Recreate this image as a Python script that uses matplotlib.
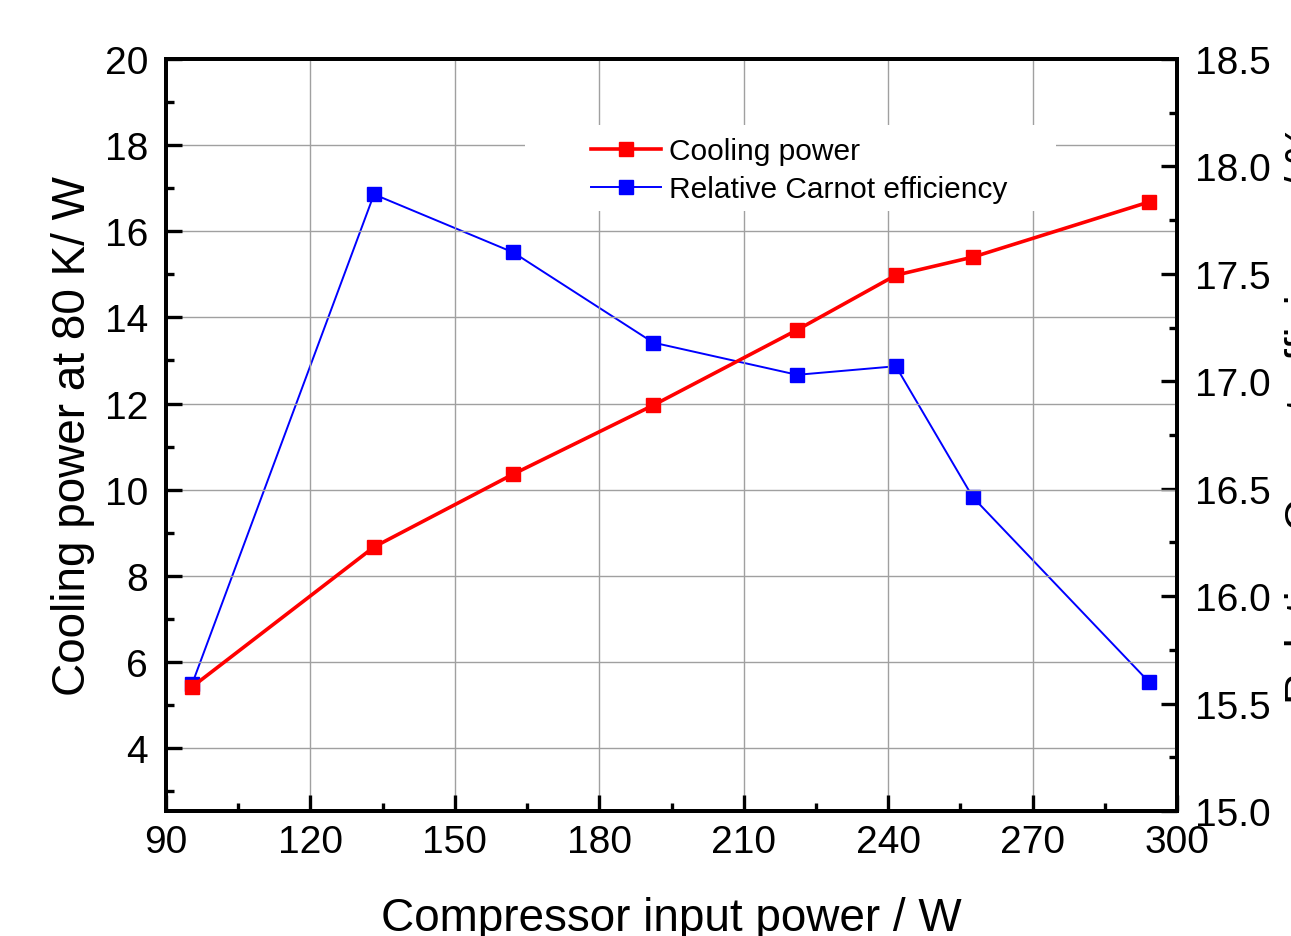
import numpy as np
import matplotlib.pyplot as plt
from matplotlib.ticker import MultipleLocator
from matplotlib.patches import Rectangle

plt.rcParams['font.family'] = ['Liberation Sans', 'DejaVu Sans']

# data
power_in = [95.4, 133.2, 162.1, 191.2, 221.1, 241.6, 257.6, 294.2]
cooling = [5.42, 8.67, 10.36, 11.96, 13.71, 14.98, 15.40, 16.68]
carnot = [15.59, 17.87, 17.60, 17.18, 17.03, 17.07, 16.46, 15.60]

fig = plt.figure(figsize=(12.91, 9.37), dpi=100)
ax = fig.add_axes([0.1286, 0.1334, 0.7831, 0.8026])
ax2 = ax.twinx()

l1, = ax.plot(power_in, cooling, color='#ff0000', lw=2.6, marker='s', ms=10.5,
              label='Cooling power', zorder=3)
l2, = ax2.plot(power_in, carnot, color='#0000ff', lw=1.4, marker='s', ms=9.5,
               label='Relative Carnot efficiency', zorder=3)

ax.set_xlim(90, 300)
ax.set_ylim(2.54, 20)
ax2.set_ylim(15.0, 18.5)

ax.xaxis.set_major_locator(MultipleLocator(30))
ax.xaxis.set_minor_locator(MultipleLocator(15))
ax.yaxis.set_major_locator(MultipleLocator(2))
ax.yaxis.set_minor_locator(MultipleLocator(1))
ax2.yaxis.set_major_locator(MultipleLocator(0.5))
ax2.yaxis.set_minor_locator(MultipleLocator(0.25))
ax2.yaxis.set_major_formatter(plt.FormatStrFormatter('%.1f'))

ax.set_axisbelow(True)
ax.grid(True, which='major', color='#a0a0a0', lw=1.0)

for a in (ax, ax2):
    for s in a.spines.values():
        s.set_linewidth(2.8)
    a.tick_params(which='major', direction='in', length=11.5, width=2.4, labelsize=28)
    a.tick_params(which='minor', direction='in', length=6, width=2.4)
ax.tick_params(axis='x', pad=9)
ax.tick_params(axis='y', pad=13)
ax2.tick_params(axis='y', pad=13)
ax.tick_params(top=False, right=False, which='both')

ax.set_xlabel('Compressor input power / W', fontsize=33)
ax.xaxis.set_label_coords(0.5, -0.113)
ax.set_ylabel('Cooling power at 80 K/ W', fontsize=33)
ax.yaxis.set_label_coords(-0.070, 0.5)
ax2.set_ylabel('Relative Carnot efficiency / %', fontsize=32)
ax2.yaxis.set_label_coords(1.107, 0.529)

ax.set_zorder(ax2.get_zorder() + 1)
ax.patch.set_visible(False)
ax2.patch.set_facecolor('white')

# white patch behind the legend, hides the grid there
ax.add_patch(Rectangle((0.355, 0.798), 0.525, 0.114, transform=ax.transAxes,
                       facecolor='white', edgecolor='none', zorder=1))

leg = ax.legend([l1, l2], ['Cooling power', 'Relative Carnot efficiency'],
                loc='upper left', bbox_to_anchor=(0.420, 0.896), frameon=False,
                fontsize=21.5, handlelength=2.35, handletextpad=0.27,
                labelspacing=0.33, borderpad=0, borderaxespad=0)

fig.savefig('out.png', dpi=100)
